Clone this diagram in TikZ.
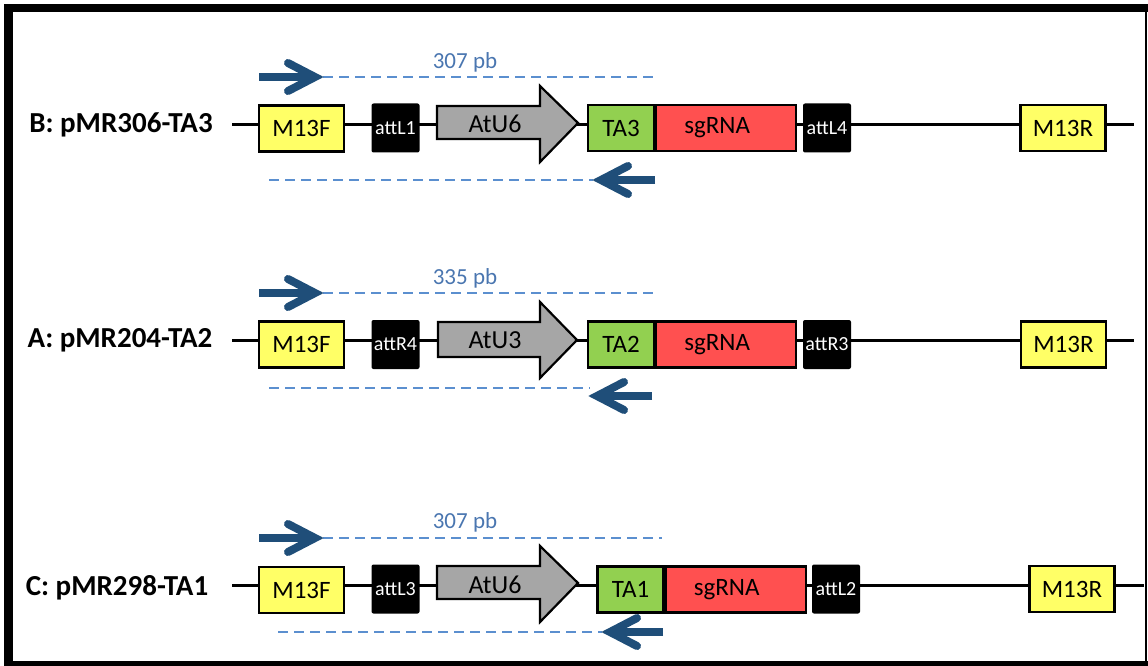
\documentclass[tikz,border=0pt]{standalone}
\usepackage{fontspec}
\setmainfont{Carlito}
\definecolor{myyellow}{HTML}{FFFF66}
\definecolor{mygreen}{HTML}{92D050}
\definecolor{myred}{HTML}{FF5050}
\definecolor{mygray}{HTML}{A6A6A6}
\definecolor{primerblue}{HTML}{1F4E79}
\definecolor{ampblue}{HTML}{5B8FCF}
\definecolor{sizeblue}{HTML}{4A76B0}
\tikzset{
  gene/.style={draw=black, line width=2.2bp, inner sep=0pt, minimum height=46bp,
    font=\fontsize{25bp}{25bp}\selectfont},
  m13/.style={gene, fill=myyellow, minimum width=85bp},
  tabox/.style={gene, fill=mygreen, minimum width=66bp},
  sgbox/.style={gene, fill=myred, minimum width=140bp},
  att/.style={fill=black, rounded corners=2bp, inner sep=0pt, minimum width=48bp,
    minimum height=49bp, text=white, font=\fontsize{20bp}{20bp}\selectfont},
  promoter/.style={draw=black, line width=2.2bp, fill=mygray, line join=miter},
  promtext/.style={font=\fontsize{26bp}{26bp}\selectfont, inner sep=0pt},
  backbone/.style={draw=black, line width=3bp},
  primer/.style={draw=primerblue, line width=8bp, line cap=round, line join=miter},
  amplicon/.style={draw=ampblue, line width=1.6bp, dash pattern=on 10bp off 6bp},
  sizelab/.style={text=sizeblue, font=\fontsize{23bp}{23bp}\selectfont, inner sep=0pt},
  rowlab/.style={font=\bfseries\fontsize{29bp}{29bp}\selectfont, inner sep=0pt},
}
\begin{document}
\begin{tikzpicture}[x=1bp,y=-1bp]
\useasboundingbox (0,0) rectangle (1148,666);
% frame
\fill[black] (4,4) rectangle (1148,12);
\fill[black] (4,4) rectangle (13,666);
\fill[black] (4,661) rectangle (1148,666);
\draw[black, line width=1.5bp] (1146,12) -- (1146,661);

% ---------- Row B ----------
\coordinate (Bs) at (232,125);
\coordinate (Be) at (1134,125);
\draw[backbone] (Bs) -- (Be);
\node[rowlab] (Blab) at (121,125) {B: pMR306-TA3};
\node[m13] (BM13F) at (301.5,128.5) {M13F};
\node[att] (Batt1) at (395.5,128) {attL1};
\draw[promoter] (437,106) -- (540,106) -- (540,86) -- (578,123) -- (540,162) -- (540,139) -- (437,139) -- cycle;
\node[promtext] (Bprom) at (495,124) {AtU6};
\node[tabox] (BTA) at (621,128) {TA3};
\node[sgbox, anchor=west] (Bsg) at (BTA.east) {\hspace{-18bp}sgRNA};
\node[att] (Batt2) at (827,128) {attL4};
\node[m13] (BM13R) at (1063,128) {M13R};
\coordinate (Bf0) at (259,77);
\coordinate (Bf1) at (315,77);
\coordinate (Bf2) at (323,77);
\coordinate (Bfe) at (653,77);
\draw[amplicon] (Bf2) -- (Bfe);
\draw[primer, line cap=butt] (Bf0) -- (Bf1);
\draw[primer] (288,63) -- (Bf1) -- (288,91);
\node[sizelab] (Bsize) at (465,62) {307 pb};
\coordinate (Br0) at (655,180);
\coordinate (Br1) at (601,180);
\coordinate (Br2) at (593,180);
\coordinate (Brs) at (269,180);
\draw[amplicon] (Brs) -- (Br2);
\draw[primer, line cap=butt] (Br0) -- (Br1);
\draw[primer] (628,166) -- (Br1) -- (628,194);

% ---------- Row A ----------
\coordinate (As) at (232,340);
\coordinate (Ae) at (1134,340);
\draw[backbone] (As) -- (Ae);
\node[rowlab] (Alab) at (120,340) {A: pMR204-TA2};
\node[m13] (AM13F) at (301.5,344.5) {M13F};
\node[att] (Aatt1) at (395.5,344.5) {attR4};
\draw[promoter] (438,322) -- (540,322) -- (540,302) -- (577,340) -- (540,378) -- (540,357) -- (438,357) -- cycle;
\node[promtext] (Aprom) at (495,340) {AtU3};
\node[tabox] (ATA) at (621,344.5) {TA2};
\node[sgbox, anchor=west] (Asg) at (ATA.east) {\hspace{-18bp}sgRNA};
\node[att] (Aatt2) at (827,344.5) {attR3};
\node[m13] (AM13R) at (1063.5,344.5) {M13R};
\coordinate (Af0) at (259,293);
\coordinate (Af1) at (315,293);
\coordinate (Af2) at (323,293);
\coordinate (Afe) at (655,293);
\draw[amplicon] (Af2) -- (Afe);
\draw[primer, line cap=butt] (Af0) -- (Af1);
\draw[primer] (288,279) -- (Af1) -- (288,307);
\node[sizelab] (Asize) at (465,278) {335 pb};
\coordinate (Ar0) at (652,396);
\coordinate (Ar1) at (597,396);
\coordinate (Ars) at (269,388);
\coordinate (Are) at (590,388);
\draw[amplicon] (Ars) -- (Are);
\draw[primer, line cap=butt] (Ar0) -- (Ar1);
\draw[primer] (624,382) -- (Ar1) -- (624,410);

% ---------- Row C ----------
\coordinate (Cs) at (232,585);
\coordinate (Ce) at (1144,585);
\draw[backbone] (Cs) -- (Ce);
\node[rowlab] (Clab) at (117,588) {C: pMR298-TA1};
\node[m13] (CM13F) at (301.5,590) {M13F};
\node[att] (Catt1) at (395.5,589) {attL3};
\draw[promoter] (437,566) -- (540,566) -- (540,546) -- (578,583) -- (540,622) -- (540,599) -- (437,599) -- cycle;
\node[promtext] (Cprom) at (495,585) {AtU6};
\node[tabox] (CTA) at (630.5,589.5) {TA1};
\node[sgbox, anchor=west] (Csg) at (CTA.east) {\hspace{-18bp}sgRNA};
\node[att] (Catt2) at (836,589) {attL2};
\node[m13] (CM13R) at (1072,589) {M13R};
\coordinate (Cf0) at (259,538);
\coordinate (Cf1) at (315,538);
\coordinate (Cf2) at (323,538);
\coordinate (Cfe) at (662,538);
\draw[amplicon] (Cf2) -- (Cfe);
\draw[primer, line cap=butt] (Cf0) -- (Cf1);
\draw[primer] (288,524) -- (Cf1) -- (288,552);
\node[sizelab] (Csize) at (465,522) {307 pb};
\coordinate (Cr0) at (663,632);
\coordinate (Cr1) at (610,632);
\coordinate (Cr2) at (602,632);
\coordinate (Crs) at (278,632);
\draw[amplicon] (Crs) -- (Cr2);
\draw[primer, line cap=butt] (Cr0) -- (Cr1);
\draw[primer] (637,618) -- (Cr1) -- (637,646);
\end{tikzpicture}
\end{document}
